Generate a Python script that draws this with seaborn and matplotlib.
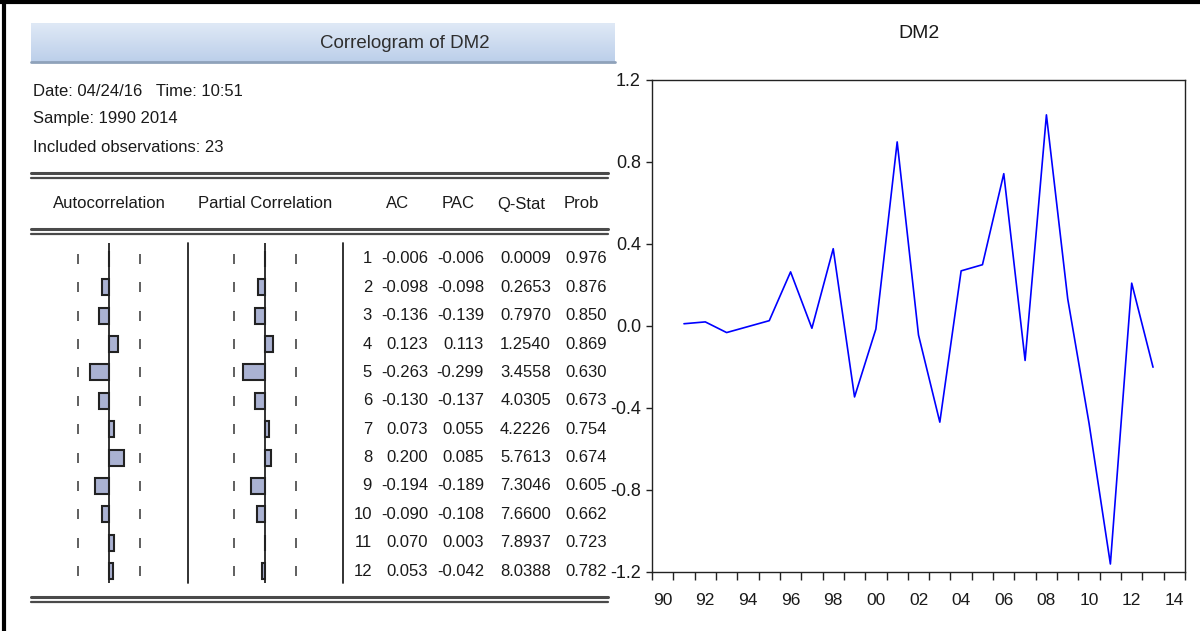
import numpy as np
import pandas as pd
import matplotlib
matplotlib.use("Agg")
import matplotlib.pyplot as plt
import matplotlib.transforms as mtransforms
import seaborn as sns

sns.set_theme(style="white")
plt.rcParams['font.family'] = ['Liberation Sans', 'DejaVu Sans']

# correlogram values
lags = list(range(1, 13))
ac = [-0.006, -0.098, -0.136, 0.123, -0.263, -0.130, 0.073, 0.200, -0.194, -0.090, 0.070, 0.053]
pac = [-0.006, -0.098, -0.139, 0.113, -0.299, -0.137, 0.055, 0.085, -0.189, -0.108, 0.003, -0.042]
qstat = ["0.0009", "0.2653", "0.7970", "1.2540", "3.4558", "4.0305",
         "4.2226", "5.7613", "7.3046", "7.6600", "7.8937", "8.0388"]
prob = ["0.976", "0.876", "0.850", "0.869", "0.630", "0.673",
        "0.754", "0.674", "0.605", "0.662", "0.723", "0.782"]
n_obs = 23

# DM2 series
years = list(range(1991, 2014))
dm2 = [0.011, 0.020, -0.032, -0.003, 0.026, 0.264, -0.011, 0.377, -0.346, -0.015,
       0.898, -0.044, -0.469, 0.269, 0.299, 0.743, -0.168, 1.030, 0.132, -0.475,
       -1.161, 0.209, -0.201]

W, H = 1200, 631
fig = plt.figure(figsize=(W / 100, H / 100), dpi=100)


def px_axes(x0, y0, x1, y1):
    return fig.add_axes([x0 / W, 1 - y1 / H, (x1 - x0) / W, (y1 - y0) / H])


# overlay for frame, text and rules
ov = px_axes(0, 0, W, H)
ov.set_xlim(0, W)
ov.set_ylim(H, 0)
ov.axis('off')

ov.plot([4, 4], [0, H], color='black', lw=3)
ov.plot([0, W], [2, 2], color='black', lw=3)

# header bar with gradient
grad = np.linspace(0, 1, 50).reshape(-1, 1)
cmap = matplotlib.colors.LinearSegmentedColormap.from_list('hdr', ['#dfe9f6', '#bccfea'])
ov.imshow(grad, cmap=cmap, extent=(31, 615, 62, 23), aspect='auto', zorder=0)
ov.plot([31, 615], [62, 62], color='#8fa2ba', lw=2)
ov.text(405, 43, "Correlogram of DM2", ha='center', va='center', fontsize=13.5, color='#2e2e2e')

txt_kw = dict(fontsize=12, color='#1a1a1a', va='center')
ov.text(33, 91, "Date: 04/24/16   Time: 10:51", **txt_kw)
ov.text(33, 118, "Sample: 1990 2014", **txt_kw)
ov.text(33, 147, "Included observations: %d" % n_obs, **txt_kw)

for y0 in (173, 229, 597):
    ov.plot([31, 608], [y0, y0], color='#4a4a4a', lw=2.2)
    ov.plot([31, 608], [y0 + 5, y0 + 5], color='#4a4a4a', lw=1.6)

ov.text(109, 204, "Autocorrelation", ha='center', **txt_kw)
ov.text(265, 204, "Partial Correlation", ha='center', **txt_kw)
for lab, xc in [("AC", 398), ("PAC", 458), ("Q-Stat", 521), ("Prob", 581)]:
    ov.text(xc, 204, lab, ha='center', **txt_kw)

ov.plot([188, 188], [243, 583], color='#222222', lw=1.3)
ov.plot([343, 343], [243, 583], color='#222222', lw=1.3)

# bar panels
scale = 74.0
bound = 2 / np.sqrt(n_obs)
df = pd.DataFrame({'lag': [str(l) for l in lags], 'ac': ac, 'pac': pac})
panels = []
for col, cx in [('ac', 109), ('pac', 265)]:
    ax = px_axes(cx - 55, 243, cx + 55, 583)
    sns.barplot(data=df, x=col, y='lag', orient='h', ax=ax, width=0.56,
                color='#aab2d2', saturation=1, edgecolor='#222222', linewidth=1.5)
    ax.set_xlim(-55 / scale, 55 / scale)
    ax.set_ylim(11.42, -0.56)
    ax.axvline(0, color='#222222', lw=1.3, zorder=0)
    for b in (-bound, bound):
        ax.plot([b] * len(lags), range(len(lags)), ls='none', marker='|',
                ms=7.5, mew=1.2, color='#444444')
    ax.axis('off')
    ax.patch.set_alpha(0)
    panels.append(ax)

# numbers of the table, rows aligned with the bar panel
tr = mtransforms.blended_transform_factory(ov.transData, panels[0].transData)
for i in range(len(lags)):
    row = [(str(lags[i]), 372), ("%.3f" % ac[i], 428), ("%.3f" % pac[i], 484),
           (qstat[i], 551), (prob[i], 607)]
    for s, xr in row:
        ov.text(xr, i, s, ha='right', transform=tr, **txt_kw)

# DM2 line chart
ax2 = px_axes(652, 80, 1185, 572)
sns.lineplot(x=np.array(years) + 0.5, y=dm2, ax=ax2, color='#0000ff', lw=1.2)
ax2.set_xlim(1990, 2015)
ax2.set_ylim(-1.2, 1.2)
yt = np.arange(-1.2, 1.21, 0.4)
ax2.set_yticks(yt)
ax2.set_yticklabels(["%.1f" % v if abs(v) > 1e-9 else "0.0" for v in yt])
ax2.set_xticks(range(1990, 2016))
ax2.set_xticklabels([])
lab_years = list(range(1990, 2015, 2))
ax2.set_xticks([y + 0.5 for y in lab_years], minor=True)
ax2.set_xticklabels(["%02d" % (y % 100) for y in lab_years], minor=True)
ax2.tick_params(axis='x', which='major', direction='out', length=6, width=1, color='#222222', bottom=True)
ax2.tick_params(axis='x', which='minor', length=0, pad=15, labelsize=12.5, labelcolor='#1a1a1a')
ax2.tick_params(axis='y', direction='out', length=4, width=1, color='#222222', left=True, pad=4,
                labelsize=13, labelcolor='#1a1a1a')
for sp in ax2.spines.values():
    sp.set_color('#222222')
    sp.set_linewidth(1)
ax2.set_title("DM2", fontsize=14, pad=30, color='#1a1a1a')
ax2.set_xlabel("")
ax2.set_ylabel("")

fig.savefig("out.png", dpi=100)
